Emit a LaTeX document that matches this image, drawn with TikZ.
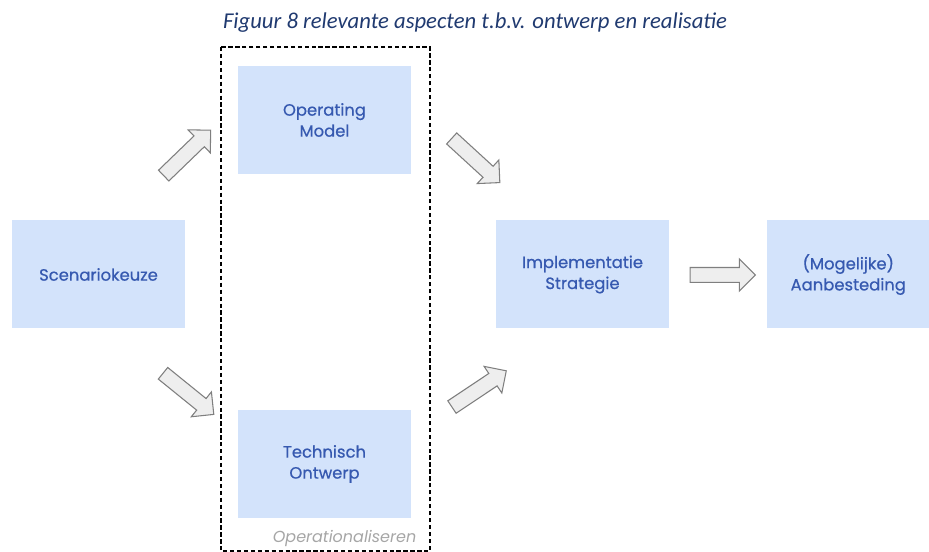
\documentclass[tikz,border=0pt]{standalone}
\usepackage{fontspec}
\usetikzlibrary{shapes.arrows}
\newfontfamily\boxfont[FakeBold=0.6]{Poppins}
\newfontfamily\notefont{Poppins}
\newfontfamily\capfont{Carlito}
\definecolor{boxfill}{HTML}{D3E3FB}
\definecolor{boxtext}{HTML}{3659B0}
\definecolor{captext}{HTML}{203A70}
\definecolor{arrfill}{HTML}{EEEEEE}
\definecolor{arrline}{HTML}{7F7F7F}
\begin{document}
\begin{tikzpicture}[
    x=0.75pt, y=-0.75pt,
    stage/.style={fill=boxfill, text=boxtext, minimum width=129.75pt, minimum height=81pt,
        align=center, inner sep=0pt, font=\boxfont\fontsize{12.3}{15.75}\selectfont},
    blockarrow/.style={single arrow, draw=arrline, fill=arrfill, line width=0.8pt,
        minimum height=49pt, inner sep=5.2pt, single arrow head extend=6.4pt,
        single arrow tip angle=90, shape border uses incircle=false}]
    \useasboundingbox (0,0) rectangle (929,552);
    \node[font=\capfont\itshape\fontsize{17}{20}\selectfont, text=captext] (caption) at (475,23)
        {Figuur 8 relevante aspecten t.b.v. ontwerp en realisatie};
    \draw[line width=1.1pt, dash pattern=on 3.2pt off 2pt] (221,47) rectangle (430,551);
    \node[stage] (scenario) at (98.5,274.5) {Scenariokeuze};
    \node[stage] (opmodel) at (324.5,120) {Operating\\Model};
    \node[stage] (techontw) at (324.5,464) {Technisch\\Ontwerp};
    \node[stage] (implstrat) at (582.5,274.5) {Implementatie\\Strategie};
    \node[stage, minimum width=121.5pt, anchor=west] (aanbest) at (767,274.5) {(Mogelijke)\\Aanbesteding};
    \node[anchor=base east, text=gray!70, font=\notefont\itshape\fontsize{12}{14}\selectfont] (opslabel)
        at (421,542) {Operationaliseren};
    \node[blockarrow, rotate=44] (arrA) at (184.5,155.5) {};
    \node[blockarrow, rotate=-39] (arrB) at (185.5,391.5) {};
    \node[blockarrow, rotate=-42.5] (arrC) at (473,158) {};
    \node[blockarrow, rotate=33.7] (arrD) at (476,391) {};
    \node[blockarrow] (arrE) at (719,275) {};
\end{tikzpicture}
\end{document}
